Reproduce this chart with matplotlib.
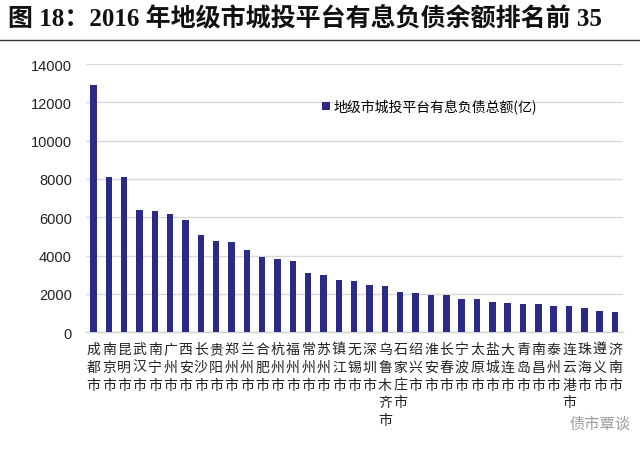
import matplotlib
matplotlib.use("Agg")
import matplotlib.pyplot as plt
import numpy as np

plt.rcParams['font.family'] = ['Noto Sans CJK SC', 'DejaVu Sans']

# 2016 年地级市城投平台有息负债总额（亿），前 35 名
cities = ["成都市", "南京市", "昆明市", "武汉市", "南宁市", "广州市", "西安市",
          "长沙市", "贵阳市", "郑州市", "兰州市", "合肥市", "杭州市", "福州市",
          "常州市", "苏州市", "镇江市", "无锡市", "深圳市", "乌鲁木齐市", "石家庄市",
          "绍兴市", "淮安市", "长春市", "宁波市", "太原市", "盐城市", "大连市",
          "青岛市", "南昌市", "泰州市", "连云港市", "珠海市", "遵义市", "济南市"]
debt = [12900, 8080, 8080, 6400, 6330, 6180, 5850, 5050, 4780, 4720, 4280,
        3900, 3830, 3700, 3080, 3000, 2740, 2670, 2480, 2410, 2120, 2050,
        1920, 1920, 1740, 1740, 1550, 1530, 1480, 1480, 1360, 1340, 1270,
        1100, 1030]
yticks = [0, 2000, 4000, 6000, 8000, 10000, 12000, 14000]

title = "图 18：2016 年地级市城投平台有息负债余额排名前 35"
legend_label = "地级市城投平台有息负债总额(亿)"

fig = plt.figure(figsize=(6.4, 4.52), dpi=100)
ax = fig.add_axes([0.134, 0.263, 0.839, 0.593])

x = np.arange(len(cities))
ax.bar(x, debt, width=0.42, color="#2B2A86", label=legend_label, zorder=3)

ax.set_xlim(-0.5, len(cities) - 0.5)
ax.set_ylim(0, 14000)
ax.set_yticks(yticks)
ax.set_yticklabels([str(v) for v in yticks], family=['Liberation Sans', 'DejaVu Sans'],
                   fontsize=10.5, color="#222222")
ax.yaxis.grid(True, color="#D9D9D9", linewidth=1.0, zorder=0)
ax.tick_params(axis='y', length=0, pad=10)

ax.set_xticks(x)
ax.set_xticklabels(["\n".join(c) for c in cities], fontsize=10, linespacing=1.35,
                   va='top', color="#222222")
ax.tick_params(axis='x', length=0, pad=7)

for s in ["left", "right", "top"]:
    ax.spines[s].set_visible(False)
ax.spines["bottom"].set_color("#D0D0D0")
ax.spines["bottom"].set_linewidth(1.0)

ax.legend(loc="upper left", bbox_to_anchor=(0.43, 0.89), frameon=False,
          fontsize=10, handlelength=0.55, handleheight=0.55, handletextpad=0.25,
          borderaxespad=0)

# 标题与分隔线
fig.text(0.012, 0.958, title, fontsize=18, fontweight='bold', va='center', ha='left',
         family=['Liberation Serif', 'Noto Sans CJK SC'], color="#111111")
fig.add_artist(plt.Line2D([0, 1], [0.909, 0.909], color="#333333", linewidth=1.0))

# 水印
fig.text(0.985, 0.062, "债市覃谈", fontsize=11, color="#9A9A9A", ha='right', va='center')

fig.savefig("out.png", dpi=100)
